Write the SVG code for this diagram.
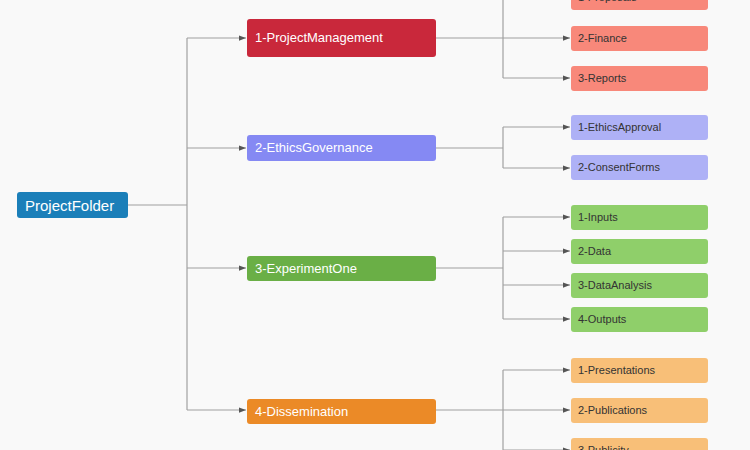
<svg xmlns="http://www.w3.org/2000/svg" width="750" height="450" viewBox="0 0 750 450">
<defs>
<style>
.bg{fill:#f9f9f9}
.c{fill:none;stroke:#a0a0a0;stroke-width:1.2}
text{font-family:"Liberation Sans",Arial,sans-serif;font-size:12px;dominant-baseline:central}
.tw{fill:#ffffff;font-size:13px}
.td{fill:#333333;font-size:11px}
.pf{fill:#1b7fb9}
.r{fill:#c9283b}
.p{fill:#8589f3}
.g{fill:#6aaf46}
.o{fill:#eb8a27}
.rl{fill:#f8887a}
.pl{fill:#aeb1f6}
.gl{fill:#8fcf6a}
.ol{fill:#f8bf78}
</style>
<marker id="ah" viewBox="0 0 8 8" refX="8" refY="4" markerWidth="7" markerHeight="7" orient="auto" markerUnits="userSpaceOnUse">
<path d="M0,1 L8,4 L0,7 z" fill="#555555"/>
</marker>
</defs>
<rect class="bg" x="0" y="0" width="750" height="450"/>
<g id="connectors">
<path class="c" d="M128,205 H187"/>
<path class="c" d="M187,38 V410"/>
<path class="c" d="M187,38 H246" marker-end="url(#ah)"/>
<path class="c" d="M187,148 H246" marker-end="url(#ah)"/>
<path class="c" d="M187,268 H246" marker-end="url(#ah)"/>
<path class="c" d="M187,410 H246" marker-end="url(#ah)"/>
<path class="c" d="M436,38 H570" marker-end="url(#ah)"/>
<path class="c" d="M503,-3 V78"/>
<path class="c" d="M503,-3 H570" marker-end="url(#ah)"/>
<path class="c" d="M503,78 H570" marker-end="url(#ah)"/>
<path class="c" d="M436,148 H503"/>
<path class="c" d="M503,127 V168"/>
<path class="c" d="M503,127 H570" marker-end="url(#ah)"/>
<path class="c" d="M503,168 H570" marker-end="url(#ah)"/>
<path class="c" d="M436,268 H503"/>
<path class="c" d="M503,217 V319"/>
<path class="c" d="M503,217 H570" marker-end="url(#ah)"/>
<path class="c" d="M503,251 H570" marker-end="url(#ah)"/>
<path class="c" d="M503,285 H570" marker-end="url(#ah)"/>
<path class="c" d="M503,319 H570" marker-end="url(#ah)"/>
<path class="c" d="M436,410 H570" marker-end="url(#ah)"/>
<path class="c" d="M503,370 V455"/>
<path class="c" d="M503,370 H570" marker-end="url(#ah)"/>
<path class="c" d="M503,450 H570" marker-end="url(#ah)"/>
</g>
<g id="n-projectfolder"><rect class="pf" x="17" y="192" width="111" height="26" rx="3"/><text class="tw" x="25" y="205" style="font-size:15px">ProjectFolder</text></g>
<g id="n-pm"><rect class="r" x="247" y="19" width="189" height="38" rx="3"/><text class="tw" x="255" y="37">1-ProjectManagement</text></g>
<g id="n-eg"><rect class="p" x="247" y="135" width="189" height="26" rx="3"/><text class="tw" x="255" y="147">2-EthicsGovernance</text></g>
<g id="n-e1"><rect class="g" x="247" y="256" width="189" height="25" rx="3"/><text class="tw" x="255" y="268">3-ExperimentOne</text></g>
<g id="n-dis"><rect class="o" x="247" y="399" width="189" height="25" rx="3"/><text class="tw" x="255" y="411">4-Dissemination</text></g>
<g id="n-proposals"><rect class="rl" x="571" y="-15" width="137" height="25" rx="3"/><text class="td" x="578" y="-3">1-Proposals</text></g>
<g id="n-finance"><rect class="rl" x="571" y="26" width="137" height="25" rx="3"/><text class="td" x="578" y="38">2-Finance</text></g>
<g id="n-reports"><rect class="rl" x="571" y="66" width="137" height="25" rx="3"/><text class="td" x="578" y="78">3-Reports</text></g>
<g id="n-ethicsapproval"><rect class="pl" x="571" y="115" width="137" height="25" rx="3"/><text class="td" x="578" y="127">1-EthicsApproval</text></g>
<g id="n-consentforms"><rect class="pl" x="571" y="155" width="137" height="25" rx="3"/><text class="td" x="578" y="167">2-ConsentForms</text></g>
<g id="n-inputs"><rect class="gl" x="571" y="205" width="137" height="25" rx="3"/><text class="td" x="578" y="217">1-Inputs</text></g>
<g id="n-data"><rect class="gl" x="571" y="239" width="137" height="25" rx="3"/><text class="td" x="578" y="251">2-Data</text></g>
<g id="n-dataanalysis"><rect class="gl" x="571" y="273" width="137" height="25" rx="3"/><text class="td" x="578" y="285">3-DataAnalysis</text></g>
<g id="n-outputs"><rect class="gl" x="571" y="307" width="137" height="25" rx="3"/><text class="td" x="578" y="319">4-Outputs</text></g>
<g id="n-presentations"><rect class="ol" x="571" y="358" width="137" height="25" rx="3"/><text class="td" x="578" y="370">1-Presentations</text></g>
<g id="n-publications"><rect class="ol" x="571" y="398" width="137" height="25" rx="3"/><text class="td" x="578" y="410">2-Publications</text></g>
<g id="n-publicity"><rect class="ol" x="571" y="438" width="137" height="25" rx="3"/><text class="td" x="578" y="450">3-Publicity</text></g>
</svg>
